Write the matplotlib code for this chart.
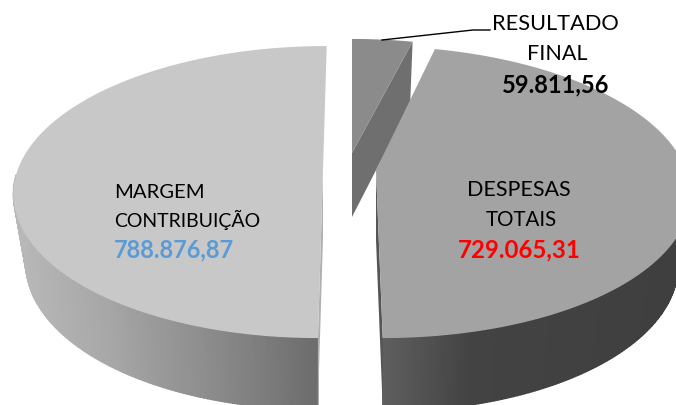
#!/usr/bin/env python3
"""Pizza 3D explodida: margem, despesas e resultado"""

import numpy as np
import matplotlib
matplotlib.use('Agg')
import matplotlib.pyplot as plt

# dados
value_labels = ['59.811,56', '729.065,31', '788.876,87']
values = [59811.56, 729065.31, 788876.87]

plt.rcParams['font.family'] = ['Lato', 'DejaVu Sans']

W, H = 676, 405
fig = plt.figure(figsize=(W / 100, H / 100), dpi=100)
ax = fig.add_axes([0, 0, 1, 1])
ax.set_xlim(0, W)
ax.set_ylim(H, 0)
ax.axis('off')

# perspectiva do disco
KP = 0.151
RX, RY = 310, 142.7


def project(theta, apex, scale, skew, sx=1.0, sy=1.0, drop=0.0):
    # theta em graus, sentido horario a partir do topo
    t = np.radians(theta)
    ux, uy = np.sin(t), np.cos(t)
    w = 1 + KP * uy
    dx = RX * ux / w * scale[0] * sx
    dy = -RY * uy / w * scale[1] * sy
    return apex[0] + dx + skew * dy, apex[1] + dy + drop


def grey(x, stops):
    v = np.interp(x, stops[0], stops[1])
    return (v / 255, v / 255, v / 255)


def draw_slice(start, end, apex, scale, skew, drop, top_color, wall_stops, cut=None, z=2):
    th = np.linspace(start, end, 240)
    xt, yt = project(th, apex, scale, skew)
    xb, yb = project(th, apex, scale, skew, 0.96, 1.02, drop)
    # parede externa, so a parte da frente
    if wall_stops is not None:
        for i in range(len(th) - 1):
            if th[i] < 92 or th[i] > 268:
                continue
            c = grey((xt[i] + xt[i + 1]) / 2, wall_stops)
            ax.fill([xt[i], xt[i + 1], xb[i + 1], xb[i]],
                    [yt[i], yt[i + 1], yb[i + 1], yb[i]],
                    facecolor=c, edgecolor=c, lw=1.0, zorder=z)
    # face do corte
    if cut is not None:
        theta_cut, c = cut
        xa, ya = project(theta_cut, apex, scale, skew)
        xc, yc = project(theta_cut, apex, scale, skew, 0.96, 1.02, drop)
        ax.fill([apex[0], xa, xc, apex[0]], [apex[1], ya, yc, apex[1] + drop],
                color=c, lw=0, zorder=z + 0.1)
    # topo
    ax.fill(np.r_[apex[0], xt], np.r_[apex[1], yt], color=top_color, lw=0, zorder=z + 0.2)


# angulos a partir dos valores
edges = np.r_[0, np.cumsum(values)] / np.sum(values) * 360

draw_slice(edges[2], edges[3], (323, 170), (0.985, 1), -0.03, 68, '#c8c8c8',
           ([13, 100, 200, 318], [184, 168, 142, 108]), cut=(edges[2], '#b0b0b0'), z=3)
draw_slice(edges[1], edges[2], (376, 170), (1, 1), 0.04, 70, '#a3a3a3',
           ([381, 470, 676], [95, 67, 63]), cut=(edges[2], '#555555'), z=3)
# a fatia do resultado fica atras da fatia de despesas
draw_slice(edges[0], edges[1], (352, 153), (0.95, 0.92), 0, 64, '#8b8b8b',
           None, cut=(edges[1], '#6f6f6f'), z=1)

# linha de chamada
ax.plot([382, 473, 490], [40, 30, 30], color='black', lw=1.0, zorder=6)

# textos
ax.text(555, 24, 'RESULTADO', ha='center', va='center', fontsize=15.7, color='black', zorder=7)
ax.text(557, 54, 'FINAL', ha='center', va='center', fontsize=15.5, color='black', zorder=7)
ax.text(556, 85, value_labels[0], ha='center', va='center', fontsize=17,
        fontweight='bold', color='black', zorder=7)

ax.text(519, 190, 'DESPESAS', ha='center', va='center', fontsize=15.5, color='black', zorder=7)
ax.text(521, 220, 'TOTAIS', ha='center', va='center', fontsize=14.8, color='black', zorder=7)
ax.text(519, 250, value_labels[1], ha='center', va='center', fontsize=17.3,
        fontweight='bold', color='#ff0000', zorder=7)

ax.text(114, 192, 'MARGEM', ha='left', va='center', fontsize=14.6, color='black', zorder=7)
ax.text(114, 220, 'CONTRIBUIÇÃO', ha='left', va='center', fontsize=14, color='black', zorder=7)
ax.text(114, 250, value_labels[2], ha='left', va='center', fontsize=17,
        fontweight='bold', color='#5b9bd5', zorder=7)

fig.savefig('out.png', dpi=100)
